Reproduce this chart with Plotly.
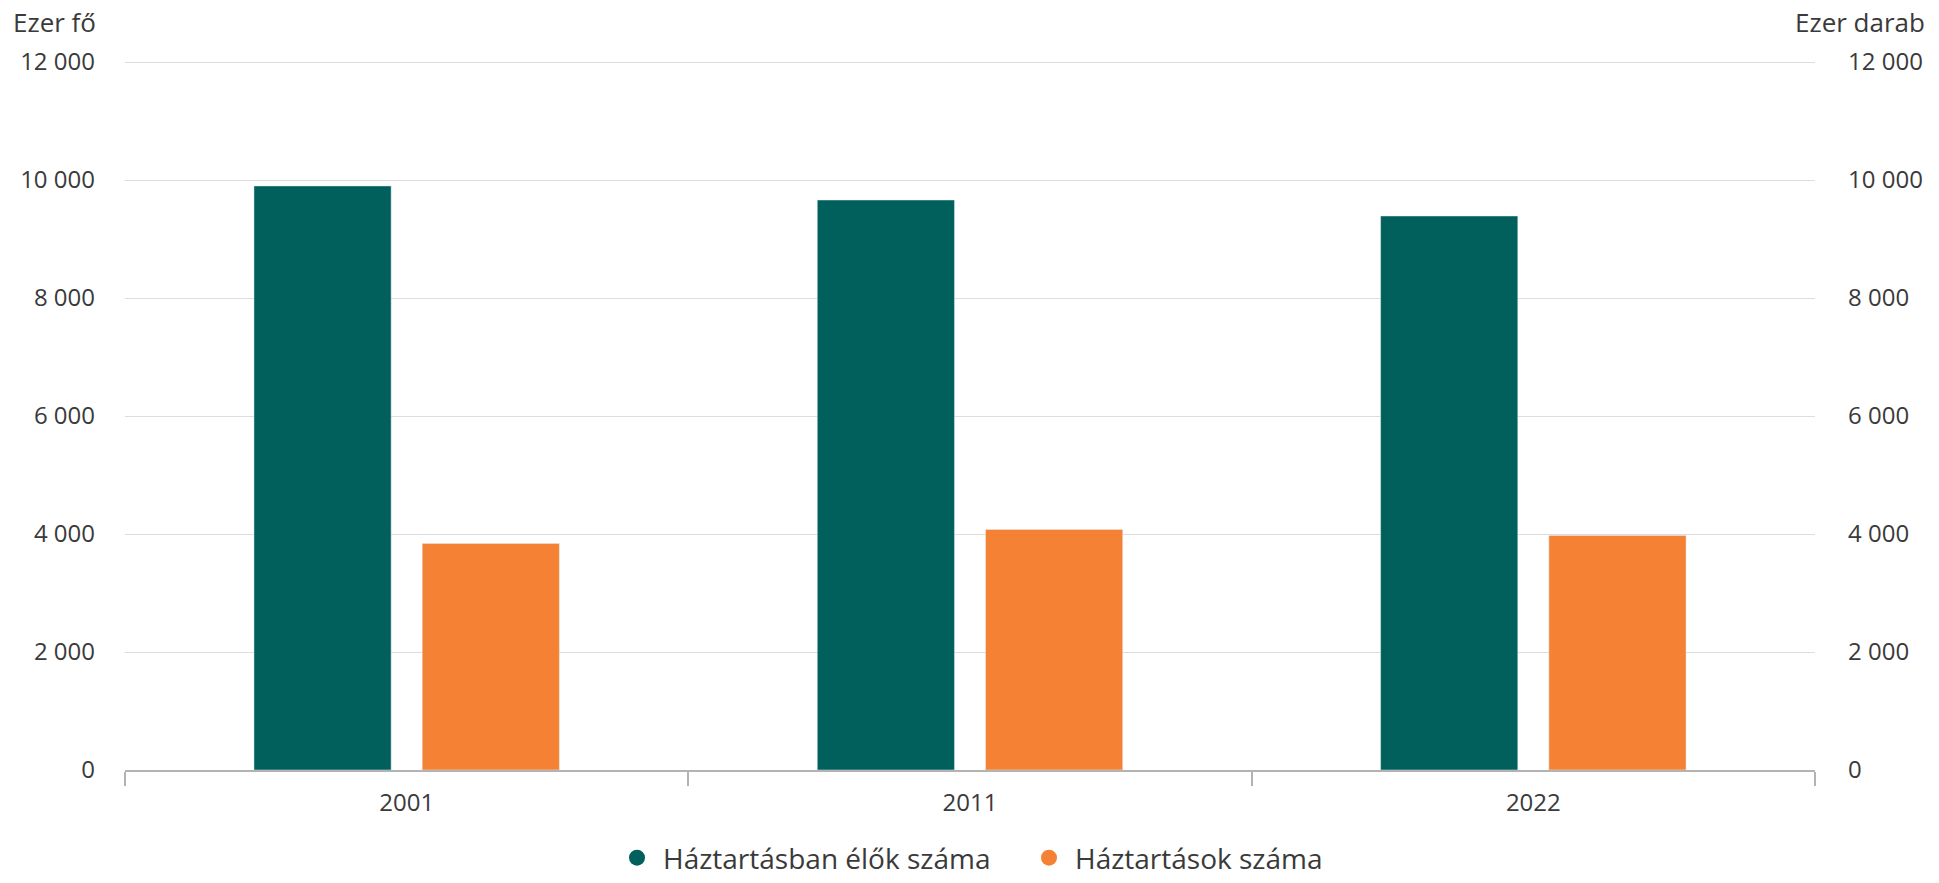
import plotly.graph_objects as go

years = ["2001", "2011", "2022"]
persons = [9900, 9662, 9391]      # Háztartásban élők száma (ezer fő)
households = [3841, 4078, 3976]   # Háztartások száma (ezer darab)
tick_vals = [0, 2000, 4000, 6000, 8000, 10000, 12000]
tick_text = ["0", "2 000", "4 000", "6 000", "8 000", "10 000", "12 000"]
series_names = ["Háztartásban élők száma", "Háztartások száma"]
colors = ["#01605c", "#f58234"]

FONT = "Open Sans"
TXT = "#3a3a3a"
W, H = 1939, 883
ML, MR, MT, MB = 125, 124, 61, 113
PW, PH = W - ML - MR, H - MT - MB

fig = go.Figure()
fig.add_trace(go.Bar(x=years, y=persons, name=series_names[0], marker_color=colors[0],
                     yaxis="y", offsetgroup="1", alignmentgroup="a", showlegend=False,
                     hovertemplate="%{x}: %{y}<extra></extra>"))
fig.add_trace(go.Bar(x=years, y=households, name=series_names[1], marker_color=colors[1],
                     yaxis="y2", offsetgroup="2", alignmentgroup="a", showlegend=False,
                     hovertemplate="%{x}: %{y}<extra></extra>"))
# legend entries with round markers
for nm, c in zip(series_names, colors):
    fig.add_trace(go.Scatter(x=[None], y=[None], mode="markers", name=nm,
                             marker=dict(symbol="circle", size=16, color=c), yaxis="y"))

yrange = [0, 12000 * 1.0015]

fig.update_layout(
    width=W, height=H,
    margin=dict(l=ML, r=MR, t=MT, b=MB, autoexpand=False),
    paper_bgcolor="white", plot_bgcolor="white",
    font=dict(family=FONT, size=24, color=TXT),
    barmode="group", bargap=0.4027, bargroupgap=0.1845,
    showlegend=True,
    legend=dict(orientation="h", x=(611 - ML) / PW, xanchor="left", xref="paper",
                y=0, yanchor="bottom", yref="container",
                font=dict(family=FONT, size=28, color=TXT), itemsizing="trace",
                itemwidth=42, tracegroupgap=0, entrywidthmode="pixels", entrywidth=355),
    xaxis=dict(type="category", showline=True, linecolor="#b3b3b3", linewidth=2,
               ticks="outside", tickson="boundaries", ticklen=14, tickcolor="#b3b3b3",
               tickwidth=1.5, showgrid=False, tickfont=dict(size=24, color=TXT),
               ticklabelstandoff=10, automargin=False),
    yaxis=dict(range=yrange, tickvals=tick_vals, ticktext=tick_text,
               showgrid=True, gridcolor="#dddddd", gridwidth=1.3, zeroline=False,
               showline=False, ticks="", ticklabelstandoff=29, automargin=False,
               tickfont=dict(size=24, color=TXT)),
    yaxis2=dict(range=yrange, tickvals=tick_vals, ticktext=tick_text,
                overlaying="y", side="right", showgrid=False, zeroline=False,
                showline=False, ticks="", ticklabelstandoff=32, automargin=False,
                tickfont=dict(size=24, color=TXT)),
    annotations=[
        dict(text="Ezer fő", xref="paper", yref="paper", x=-ML / PW, y=1 + 39 / PH,
             xanchor="left", yanchor="middle", showarrow=False,
             font=dict(family=FONT, size=26, color=TXT), xshift=11),
        dict(text="Ezer darab", xref="paper", yref="paper", x=1 + MR / PW, y=1 + 39 / PH,
             xanchor="right", yanchor="middle", showarrow=False,
             font=dict(family=FONT, size=26, color=TXT), xshift=-12),
    ],
)

fig.write_html("out.html", config={"displayModeBar": False},
               post_script="document.body.style.margin='0';")
